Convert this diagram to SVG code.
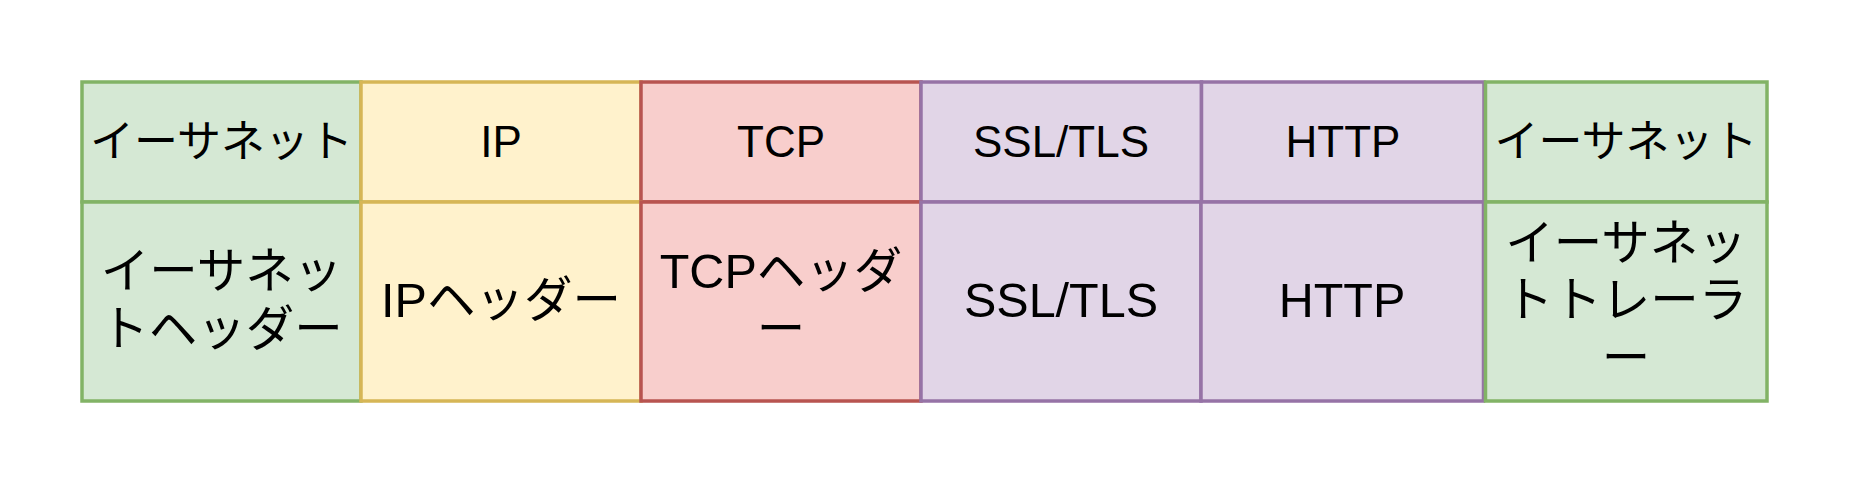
<svg xmlns="http://www.w3.org/2000/svg" width="1852" height="488" viewBox="0 0 1852 488">
<style>
.g{fill:#d5e8d4;stroke:#82b366;stroke-width:3.5}
.y{fill:#fff2cc;stroke:#d6b656;stroke-width:3.5}
.r{fill:#f8cecc;stroke:#b85450;stroke-width:3.5}
.p{fill:#e1d5e7;stroke:#9673a6;stroke-width:3.5}
text{font-family:"Liberation Sans","Noto Sans CJK JP",sans-serif;fill:#000;text-anchor:middle}
.t{font-size:44px}
.b{font-size:48.5px}
</style>
<rect width="1852" height="488" fill="#fff"/>
<g id="eth-top"><rect class="g" x="82" y="82" width="279" height="120"/><text class="t" x="221.5" y="157">イーサネット</text></g>
<g id="ip-top"><rect class="y" x="361" y="82" width="280" height="120"/><text class="t" x="501" y="157">IP</text></g>
<g id="tcp-top"><rect class="r" x="641" y="82" width="280" height="120"/><text class="t" x="781" y="157">TCP</text></g>
<g id="ssl-top"><rect class="p" x="921" y="82" width="280.5" height="120"/><text class="t" x="1061" y="157">SSL/TLS</text></g>
<g id="http-top"><rect class="p" x="1201.5" y="82" width="282.5" height="120"/><text class="t" x="1343" y="157">HTTP</text></g>
<g id="eth2-top"><rect class="g" x="1485.5" y="82" width="281.5" height="120"/><text class="t" x="1626" y="157">イーサネット</text></g>
<g id="eth-header"><rect class="g" x="82" y="202" width="279" height="199"/><text class="b" x="221.5" y="288">イーサネッ</text><text class="b" x="221.5" y="346">トヘッダー</text></g>
<g id="ip-header"><rect class="y" x="361" y="202" width="280" height="199"/><text class="b" x="501" y="316.5">IPヘッダー</text></g>
<g id="tcp-header"><rect class="r" x="641" y="202" width="280" height="199"/><text class="b" x="781" y="288">TCPヘッダ</text><text class="b" x="781" y="346">ー</text></g>
<g id="ssl-body"><rect class="p" x="921" y="202" width="280" height="199"/><text class="b" x="1061" y="316.5">SSL/TLS</text></g>
<g id="http-body"><rect class="p" x="1201" y="202" width="282.5" height="199"/><text class="b" x="1342" y="316.5">HTTP</text></g>
<g id="eth-trailer"><rect class="g" x="1485.5" y="202" width="281.5" height="199"/><text class="b" x="1626" y="260">イーサネッ</text><text class="b" x="1626" y="317">トトレーラ</text><text class="b" x="1626" y="375">ー</text></g>
<g id="connectors"/>
</svg>
